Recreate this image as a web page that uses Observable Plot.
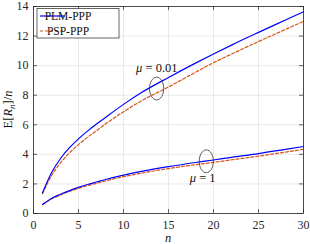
<!DOCTYPE html>
<html>
<head>
<meta charset="utf-8">
<script src="https://cdn.jsdelivr.net/npm/d3@7"></script>
<script src="https://cdn.jsdelivr.net/npm/@observablehq/plot@0.6"></script>
<style>
  html, body { margin: 0; padding: 0; background: #fff; }
  #chart svg { display: block; }
  #chart svg text { font-family: "Liberation Serif", "Times New Roman", serif !important; }
</style>
</head>
<body>
<div id="chart"></div>
<script>
// ---- data ----
const nValues = [1, 2, 3, 4, 5, 6, 7, 8, 10, 12, 15, 18, 20, 22, 25, 28, 30];
const plmMu001 = [1.40, 2.75, 3.72, 4.45, 5.05, 5.57, 6.05, 6.50, 7.38, 8.18, 9.20, 10.17, 10.79, 11.39, 12.25, 13.09, 13.65];
const pspMu001 = [1.33, 2.55, 3.42, 4.10, 4.66, 5.16, 5.60, 6.05, 6.88, 7.62, 8.56, 9.55, 10.20, 10.78, 11.63, 12.45, 12.99];
const plmMu1   = [0.61, 1.02, 1.30, 1.55, 1.77, 1.96, 2.13, 2.30, 2.60, 2.85, 3.17, 3.45, 3.62, 3.80, 4.05, 4.34, 4.53];
const pspMu1   = [0.60, 0.98, 1.25, 1.49, 1.70, 1.88, 2.04, 2.20, 2.49, 2.73, 3.04, 3.30, 3.46, 3.63, 3.88, 4.15, 4.35];
const seriesNames = ["PLM-PPP", "PSP-PPP"];
const xTicks = [0, 5, 10, 15, 20, 25, 30];
const yTicks = [0, 2, 4, 6, 8, 10, 12, 14];
const annoLabels = ["μ = 0.01", "μ = 1"];
const annoEllipseN = [13.68, 19.2];
const annoEllipseV = [8.45, 3.53];
const annoLabelN = [13.7, 18.8];
const annoLabelV = [9.86, 2.43];

// ---- tables built from the arrays ----
const rows = [];
const add = (vals, method, mu) => vals.forEach((v, i) => rows.push({n: nValues[i], v, method, key: method + mu}));
add(plmMu001, seriesNames[0], "0.01");
add(pspMu001, seriesNames[1], "0.01");
add(plmMu1, seriesNames[0], "1");
add(pspMu1, seriesNames[1], "1");
const annos = annoLabels.map((label, i) => ({label, en: annoEllipseN[i], ev: annoEllipseV[i], ln: annoLabelN[i], lv: annoLabelV[i]}));

const BLUE = "#0000ff", ORANGE = "#d95319", AX = "#262626";
const W = 310, H = 244, mL = 33, mR = 7, mT = 6, mB = 31;
const pw = W - mL - mR, ph = H - mT - mB;
const serif = "'Liberation Serif', 'Times New Roman', serif";

const ellipseSymbol = {
  draw(ctx) {
    const rx = 7.1, ry = 11.4, k = 0.5523;
    ctx.moveTo(rx, 0);
    ctx.bezierCurveTo(rx, ry * k, rx * k, ry, 0, ry);
    ctx.bezierCurveTo(-rx * k, ry, -rx, ry * k, -rx, 0);
    ctx.bezierCurveTo(-rx, -ry * k, -rx * k, -ry, 0, -ry);
    ctx.bezierCurveTo(rx * k, -ry, rx, -ry * k, rx, 0);
    ctx.closePath();
  }
};

const chart = Plot.plot({
  width: W, height: H,
  marginLeft: mL, marginRight: mR, marginTop: mT, marginBottom: mB,
  style: {fontFamily: serif, fontSize: "12px", color: AX, background: "#fff"},
  x: {domain: [0, 30], ticks: xTicks, label: null},
  y: {domain: [0, 14], ticks: yTicks, label: null},
  marks: [
    Plot.gridX(xTicks, {stroke: "#e3e3e3", strokeOpacity: 1, strokeWidth: 0.8}),
    Plot.gridY(yTicks, {stroke: "#e3e3e3", strokeOpacity: 1, strokeWidth: 0.8}),
    Plot.line(rows.filter(d => d.method === seriesNames[1]), {x: "n", y: "v", z: "key", stroke: ORANGE, strokeWidth: 1.2, strokeDasharray: "3,2", curve: "monotone-x"}),
    Plot.line(rows.filter(d => d.method === seriesNames[0]), {x: "n", y: "v", z: "key", stroke: BLUE, strokeWidth: 1.2, curve: "monotone-x"}),
    Plot.dot(annos, {x: "en", y: "ev", symbol: ellipseSymbol, stroke: "#333", strokeWidth: 0.8, fill: "none"}),
    Plot.text(annos, {x: "ln", y: "lv", text: "label", fontSize: 12.5, fill: "#111", className: "mu-label"}),
    // inward ticks on all four sides
    Plot.ruleX(xTicks, {x: d => d, insetTop: ph - 4, stroke: AX, strokeWidth: 0.7}),
    Plot.ruleX(xTicks, {x: d => d, insetBottom: ph - 4, stroke: AX, strokeWidth: 0.7}),
    Plot.ruleY(yTicks, {y: d => d, insetRight: pw - 4, stroke: AX, strokeWidth: 0.7}),
    Plot.ruleY(yTicks, {y: d => d, insetLeft: pw - 4, stroke: AX, strokeWidth: 0.7}),
    Plot.axisX({ticks: xTicks, tickSize: 0, tickPadding: 7, label: null, fontSize: 12}),
    Plot.axisY({ticks: yTicks, tickSize: 0, tickPadding: 5, label: null, fontSize: 12}),
    Plot.frame({stroke: AX, strokeWidth: 0.8})
  ]
});

document.getElementById("chart").appendChild(chart);
const svg = d3.select(chart);

// italic mu in annotations
svg.selectAll(".mu-label text").each(function () {
  const t = d3.select(this);
  const txt = t.text();
  t.text(null);
  t.append("tspan").attr("font-style", "italic").text(txt.slice(0, 1));
  t.append("tspan").text(txt.slice(1));
});

// axis labels
svg.append("text")
  .attr("x", mL + pw / 2).attr("y", 242)
  .attr("text-anchor", "middle").attr("font-family", serif).attr("font-size", 12.5)
  .attr("font-style", "italic").attr("fill", "#111").text("n");

const yl = svg.append("text")
  .attr("transform", `translate(12,${mT + ph / 2}) rotate(-90)`)
  .attr("text-anchor", "middle").attr("font-family", serif).attr("font-size", 12.5).attr("fill", "#111");
yl.append("tspan").text("E[");
yl.append("tspan").attr("font-style", "italic").text("R");
yl.append("tspan").attr("font-style", "italic").attr("font-size", 9).attr("dy", 2.5).text("n");
yl.append("tspan").attr("dy", -2.5).text("]/");
yl.append("tspan").attr("font-style", "italic").text("n");

// legend
const lg = svg.append("g");
lg.append("rect").attr("x", 37).attr("y", 8.5).attr("width", 82).attr("height", 29.5)
  .attr("fill", "#fff").attr("stroke", AX).attr("stroke-width", 0.7);
const legendItems = [
  {name: seriesNames[0], color: BLUE, dash: null, y: 16},
  {name: seriesNames[1], color: ORANGE, dash: "3,2", y: 31}
];
legendItems.forEach(it => {
  lg.append("line").attr("x1", 40).attr("x2", 65).attr("y1", it.y).attr("y2", it.y)
    .attr("stroke", it.color).attr("stroke-width", 1.2).attr("stroke-dasharray", it.dash);
  lg.append("text").attr("x", 68).attr("y", it.y + 4).attr("font-family", serif)
    .attr("font-size", 11.5).attr("fill", "#111").text(it.name);
});
</script>
</body>
</html>
